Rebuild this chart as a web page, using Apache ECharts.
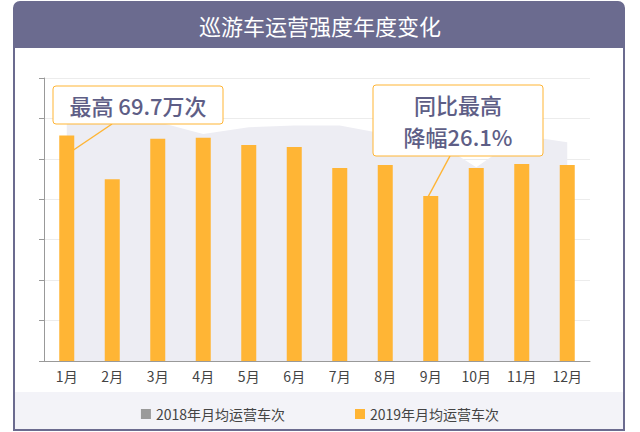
<!DOCTYPE html>
<html>
<head>
<meta charset="utf-8">
<script src="https://cdn.jsdelivr.net/npm/echarts@6/dist/echarts.min.js"></script>
<style>html,body{margin:0;padding:0;background:#fff}#c{width:640px;height:432px}</style>
</head>
<body>
<div id="c"></div>
<script>
var months = ['1月', '2月', '3月', '4月', '5月', '6月', '7月', '8月', '9月', '10月', '11月', '12月'];
var trips2018 = [74.4, 74.4, 73.9, 70.2, 72.3, 72.8, 72.8, 70.2, 68.9, 59.9, 69.7, 67.6];
var trips2019 = [69.7, 56.2, 68.7, 69.0, 66.8, 66.2, 59.7, 60.6, 51.0, 59.7, 60.9, 60.6];
var name2018 = '2018年月均运营车次';
var name2019 = '2019年月均运营车次';

var frame = '#6b6b8f';
var orange = '#ffb535';
var textInk = '#5e5e86';

var chart = echarts.init(document.getElementById('c'), null, { renderer: 'svg' });
chart.setOption({
  animation: false,
  textStyle: { fontFamily: '"Noto Sans CJK SC", "Noto Sans", sans-serif' },
  graphic: [
    { type: 'rect', z: -10, shape: { x: 14, y: 2, width: 610, height: 428, r: [6, 6, 0, 0] },
      style: { fill: '#fff', stroke: frame, lineWidth: 2 } },
    { type: 'rect', z: -9, shape: { x: 14, y: 2, width: 610, height: 46, r: [6, 6, 0, 0] }, style: { fill: frame } },
    { type: 'rect', z: -9, shape: { x: 15, y: 392, width: 608, height: 37 }, style: { fill: '#f3f3f8' } },
    // callout 1
    { type: 'line', z: 20, shape: { x1: 72, y1: 151, x2: 112, y2: 124 }, style: { stroke: orange, lineWidth: 1.5 } },
    { type: 'rect', z: 20, shape: { x: 53, y: 86, width: 170, height: 38, r: 3 }, style: { fill: '#fff', stroke: orange, lineWidth: 1 } },
    { type: 'text', z: 21, style: { x: 138, y: 105, text: '最高 69.7万次', fill: textInk, font: '500 22px "Noto Sans CJK SC"', align: 'center', verticalAlign: 'middle' } },
    // callout 2
    { type: 'line', z: 20, shape: { x1: 428, y1: 197, x2: 450, y2: 156 }, style: { stroke: orange, lineWidth: 1.5 } },
    { type: 'rect', z: 20, shape: { x: 373, y: 85, width: 170, height: 71, r: 3 }, style: { fill: '#fff', stroke: orange, lineWidth: 1 } },
    { type: 'text', z: 21, style: { x: 458, y: 104, text: '同比最高', fill: textInk, font: '500 22px "Noto Sans CJK SC"', align: 'center', verticalAlign: 'middle' } },
    { type: 'text', z: 21, style: { x: 458, y: 136, text: '降幅26.1%', fill: textInk, font: '500 22px "Noto Sans CJK SC"', align: 'center', verticalAlign: 'middle' } }
  ],
  title: {
    text: '巡游车运营强度年度变化', left: 'center', top: 9,
    textStyle: { color: '#fff', fontSize: 22, fontWeight: 'normal' }
  },
  legend: {
    bottom: 6, itemGap: 70, itemWidth: 10, itemHeight: 10,
    textStyle: { color: '#444', fontSize: 14 },
    data: [
      { name: name2018, icon: 'rect', itemStyle: { color: '#9a9a9a' } },
      { name: name2019, icon: 'rect', itemStyle: { color: orange } }
    ]
  },
  grid: { left: 44, right: 50, top: 78, bottom: 71 },
  xAxis: {
    type: 'category', data: months, boundaryGap: true,
    axisLine: { lineStyle: { color: '#999' } }, axisTick: { show: false },
    axisLabel: { color: '#444', fontSize: 14, margin: 8 }
  },
  yAxis: {
    type: 'value', min: 0, max: 87.5, interval: 12.5,
    axisLine: { show: true, lineStyle: { color: '#999' } },
    axisTick: { show: true, inside: false, length: 5, lineStyle: { color: '#999' } },
    axisLabel: { show: false },
    splitLine: { lineStyle: { color: '#ececec' } }
  },
  series: [
    { name: name2018, type: 'line', data: trips2018, symbol: 'none', z: 1,
      lineStyle: { width: 0 }, areaStyle: { color: '#ededf3', opacity: 1 } },
    { name: name2019, type: 'bar', data: trips2019, barWidth: 15, z: 3,
      itemStyle: { color: orange } }
  ]
});
</script>
</body>
</html>
